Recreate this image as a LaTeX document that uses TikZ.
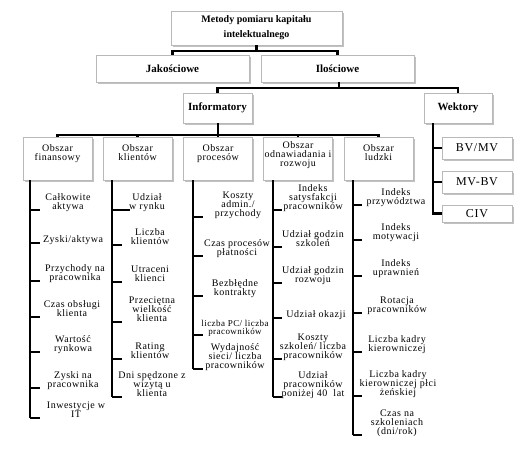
\documentclass[tikz,border=0pt]{standalone}
\usepackage{fontspec}
\setmainfont{Liberation Serif}
\newfontfamily\lfont[LetterSpace=5]{Liberation Serif}
\newfontfamily\vfont[LetterSpace=6]{Liberation Serif}
\usetikzlibrary{shadows}
\newcommand\leafnode[6]{%
  \node[leaf, anchor=south] (#1) at (#3,#4+2.8) {#6\strut};
  \draw[ln] ([yshift=2.8pt]#2 |- #1.south) -- ++(#5,0);
}
\begin{document}
\begin{tikzpicture}[x=1pt,y=-1pt,
  box/.style={draw=gray!55, fill=white, line width=0.6pt, inner sep=0pt, align=center,
    drop shadow={shadow xshift=1.5pt, shadow yshift=-1.5pt, fill=gray!60, opacity=0.8}},
  topbox/.style={box, font=\bfseries\fontsize{11}{13}\selectfont},
  obox/.style={box, minimum width=69pt, minimum height=43pt},
  olab/.style={inner sep=0pt, align=center, anchor=north, font=\lfont\fontsize{10}{9.3}\selectfont},
  vbox/.style={box, minimum width=70pt, font=\vfont\fontsize{12}{13}\selectfont},
  leaf/.style={inner sep=0pt, align=center, font=\lfont\fontsize{10}{9.3}\selectfont},
  ln/.style={line width=2.8pt, black},
]
\useasboundingbox (0,0) rectangle (524,456);

% top levels
\node[topbox, minimum width=171pt, minimum height=34pt, font=\bfseries\fontsize{10}{15}\selectfont] (top) at (256.5,28) {Metody pomiaru kapitału\\intelektualnego};
\node[topbox, minimum width=153pt, minimum height=27pt] (jak) at (172.5,68.5) {Jakościowe};
\node[topbox, minimum width=153pt, minimum height=27pt] (ilo) at (337.5,68.5) {Ilościowe};
\node[topbox, minimum width=69pt, minimum height=30pt] (inf) at (217.5,108) {Informatory};
\node[topbox, minimum width=68pt, minimum height=30pt] (wek) at (458,108) {Wektory};

\coordinate (b1) at (256.5,51);
\draw[ln] (top.south) -- (b1);
\draw[ln] (jak.north) |- (b1) -| (ilo.north);
\coordinate (b2) at (339,88);
\draw[ln] (b2 |- ilo.south) -- (b2);
\draw[ln] (inf.north) |- (b2) -| (wek.north);

% areas
\node[obox, label={[olab, yshift=-7.5pt]north:Obszar\\finansowy}] (fin) at (57.5,158.5) {};
\node[obox, label={[olab, yshift=-7.5pt]north:Obszar\\klientów}] (kli) at (137.5,158.5) {};
\node[obox, label={[olab, yshift=-7.5pt]north:Obszar\\procesów}] (pro) at (218,158.5) {};
\node[obox, label={[olab, yshift=-4.5pt]north:Obszar\\odnawiadania i\\rozwoju}] (odn) at (298,158.5) {};
\node[obox, label={[olab, yshift=-7.5pt]north:Obszar\\ludzki}] (lud) at (378.5,158.5) {};

\coordinate (b3) at (218,135);
\draw[ln] (b3 |- inf.south) -- (b3);
\draw[ln] (fin.north) |- (b3) -| (lud.north);
\draw[ln] (kli.north) -- (kli.north |- b3);
\draw[ln] (odn.north) -- (odn.north |- b3);
\draw[ln] (pro.north) -- (pro.north |- b3);

% vectors
\node[vbox, minimum height=22pt] (bv) at (477,148) {BV/MV};
\node[vbox, minimum height=22pt] (mv) at (477,182) {MV-BV};
\node[vbox, minimum height=17pt] (civ) at (477,213.5) {CIV};
\coordinate (wv) at (433,123);
\draw[ln] (wek.south -| wv) -- (wv |- civ.west) -- (civ.west);
\draw[ln] (wv |- bv.west) -- (bv.west);
\draw[ln] (wv |- mv.west) -- (mv.west);

% column verticals
\coordinate (fv) at (30,180);
\coordinate (kv) at (112,180);
\coordinate (pv) at (193,180);
\coordinate (ov) at (273,180);
\coordinate (lv) at (353,180);

% finansowy
\leafnode{f1}{fv}{68}{210}{10}{Całkowite\\aktywa}
\leafnode{f2}{fv}{73}{243}{10}{Zyski/aktywa}
\leafnode{f3}{fv}{75}{281}{10}{Przychody na\\pracownika}
\leafnode{f4}{fv}{72}{317}{10}{Czas obsługi\\klienta}
\leafnode{f5}{fv}{73}{352}{10}{Wartość\\rynkowa}
\leafnode{f6}{fv}{73}{388}{10}{Zyski na\\pracownika}
\leafnode{f7}{fv}{76}{418}{10}{Inwestycje w\\IT}
\draw[ln] (fin.south -| fv) -- ([yshift=2.8pt]fv |- f7.south);

% klientow
\leafnode{k1}{kv}{147}{210}{18}{Udział\\w rynku}
\leafnode{k2}{kv}{150}{245}{10}{Liczba\\klientów}
\leafnode{k3}{kv}{150}{282}{10}{Utraceni\\klienci}
\leafnode{k4}{kv}{152}{322}{10}{Przeciętna\\wielkość\\klienta}
\leafnode{k5}{kv}{150}{359}{10}{Rating\\klientów}
\leafnode{k6}{kv}{152}{397}{10}{Dni spędzone z\\wizytą u\\klienta}
\draw[ln] (kli.south -| kv) -- ([yshift=2.8pt]kv |- k6.south);

% procesow
\leafnode{p1}{pv}{238}{217}{10}{Koszty\\admin./\\przychody}
\leafnode{p2}{pv}{237}{256}{10}{Czas procesów\\płatności}
\leafnode{p3}{pv}{235}{296}{10}{Bezbłędne\\kontrakty}
\node[leaf, anchor=south, font=\lfont\fontsize{9}{8.5}\selectfont] (p4) at (235,337.5) {liczba PC/ liczba\\pracowników\strut};
\draw[ln] ([yshift=2.5pt]pv |- p4.south) -- ++(10,0);
\leafnode{p5}{pv}{235}{369}{10}{Wydajność\\sieci/ liczba\\pracowników}
\draw[ln] (pro.south -| pv) -- ([yshift=2.8pt]pv |- p5.south);

% odnawiadania
\leafnode{o1}{ov}{313}{210}{9}{Indeks\\satysfakcji\\pracowników}
\leafnode{o2}{ov}{313}{247}{9}{Udział godzin\\szkoleń}
\leafnode{o3}{ov}{313}{283}{9}{Udział godzin\\rozwoju}
\leafnode{o4}{ov}{316}{318}{9}{Udział okazji}
\leafnode{o5}{ov}{313}{359}{9}{Koszty\\szkoleń/ liczba\\pracowników}
\leafnode{o6}{ov}{313}{397}{9}{Udział\\pracowników\\poniżej 40\ \ lat}
\draw[ln] (odn.south -| ov) -- ([yshift=2.8pt]ov |- o6.south);

% ludzki
\leafnode{l1}{lv}{396}{205}{9}{Indeks\\przywództwa}
\leafnode{l2}{lv}{396}{240}{9}{Indeks\\motywacji}
\leafnode{l3}{lv}{396}{276}{9}{Indeks\\uprawnień}
\leafnode{l4}{lv}{397}{313}{9}{Rotacja\\pracowników}
\leafnode{l5}{lv}{397}{352}{9}{Liczba kadry\\kierowniczej}
\leafnode{l6}{lv}{398}{396}{9}{Liczba kadry\\kierowniczej płci\\żeńskiej}
\leafnode{l7}{lv}{397}{435}{9}{Czas na\\szkoleniach\\(dni/rok)}
\draw[ln] (lud.south -| lv) -- ([yshift=2.8pt]lv |- l7.south);
\end{tikzpicture}
\end{document}
